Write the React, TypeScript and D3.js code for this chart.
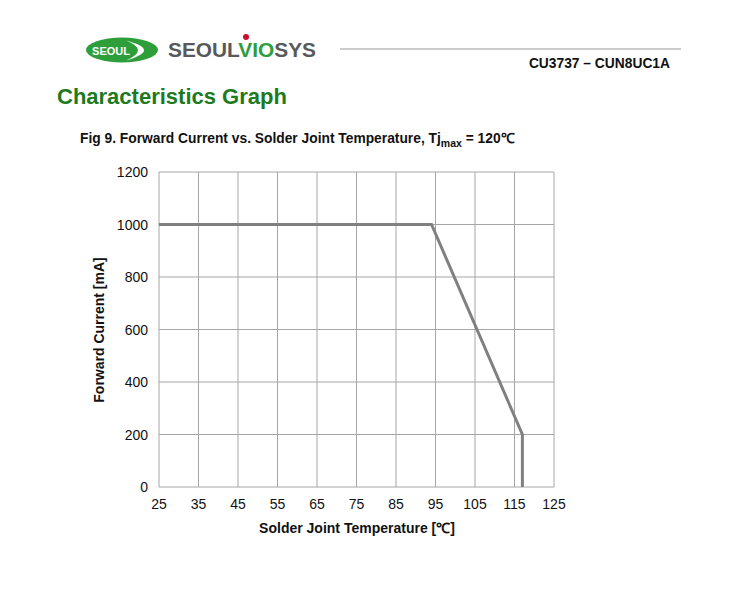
import React from "react";
import * as d3 from "d3";

const xTicks = [25, 35, 45, 55, 65, 75, 85, 95, 105, 115, 125];
const yTicks = [0, 200, 400, 600, 800, 1000, 1200];
const temps = [25, 94, 117, 117];
const currents = [1000, 1000, 200, 0];

export default function App() {
  const x = d3.scaleLinear().domain([25, 125]).range([159, 554]);
  const y = d3.scaleLinear().domain([0, 1200]).range([487, 172]);
  const pts = temps.map((t, i) => [t, currents[i]] as [number, number]);
  const line = d3
    .line<[number, number]>()
    .x((d) => x(d[0]))
    .y((d) => y(d[1]));
  const font = "'Liberation Sans', Arial, sans-serif";
  return (
    <svg
      width={730}
      height={601}
      style={{ position: "absolute", left: 0, top: 0, background: "#fff" }}
      fontFamily={font}
    >
      {/* logo */}
      <ellipse cx={122} cy={50} rx={36} ry={12.5} fill="#2e9e3a" />
      <path d="M126,40.5 Q162,50 126,60.5 Q150,50 126,40.5 Z" fill="#fff" />
      <text x={111} y={54.5} fontSize={11} fontWeight="bold" fill="#fff" textAnchor="middle">
        SEOUL
      </text>
      <text x={168} y={57} fontSize={20} fontWeight="bold" fill="#58595b" textLength={148} lengthAdjust="spacingAndGlyphs">
        SEOUL<tspan fill="#2e9e3a">VIO</tspan>SYS
      </text>
      <circle cx={246} cy={37} r={3} fill="#c8102e" />
      <line x1={340} x2={681} y1={49} y2={49} stroke="#999" strokeWidth={1} />
      <text x={670} y={68} fontSize={13.8} fontWeight="bold" textAnchor="end" fill="#111">
        CU3737 – CUN8UC1A
      </text>
      <text x={57} y={104} fontSize={22} fontWeight="bold" fill="#1d7a1d">
        Characteristics Graph
      </text>
      <text x={80} y={143} fontSize={13.8} fontWeight="bold" fill="#111">
        Fig 9. Forward Current vs. Solder Joint Temperature, Tj
        <tspan fontSize={10.5} dy={4}>max</tspan>
        <tspan dy={-4}> = 120℃</tspan>
      </text>

      {/* grid */}
      {xTicks.map((t) => (
        <line key={"gx" + t} x1={x(t)} x2={x(t)} y1={y(1200)} y2={y(0)} stroke="#a6a6a6" strokeWidth={1} />
      ))}
      {yTicks.map((t) => (
        <line key={"gy" + t} x1={x(25)} x2={x(125)} y1={y(t)} y2={y(t)} stroke="#a6a6a6" strokeWidth={1} />
      ))}

      <path d={line(pts) || ""} fill="none" stroke="#808080" strokeWidth={3} strokeLinejoin="miter" />

      {yTicks.map((t) => (
        <text key={"ty" + t} x={148} y={y(t) + 5} fontSize={14} textAnchor="end" fill="#111">
          {t}
        </text>
      ))}
      {xTicks.map((t) => (
        <text key={"tx" + t} x={x(t)} y={509} fontSize={14} textAnchor="middle" fill="#111">
          {t}
        </text>
      ))}
      <text x={357} y={533} fontSize={14} fontWeight="bold" textAnchor="middle" fill="#111">
        Solder Joint Temperature [℃]
      </text>
      <text
        transform={`translate(104,330) rotate(-90)`}
        fontSize={14}
        fontWeight="bold"
        textAnchor="middle"
        fill="#111"
      >
        Forward Current [mA]
      </text>
    </svg>
  );
}
